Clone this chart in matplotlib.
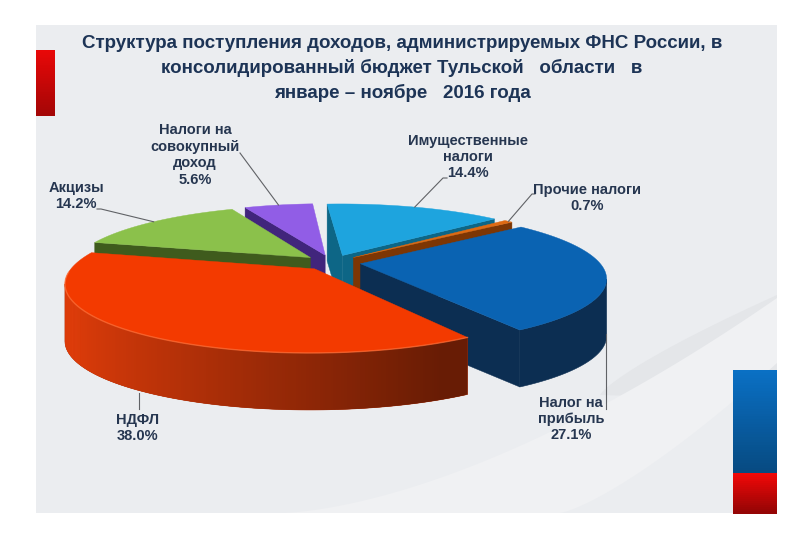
import numpy as np
import matplotlib
matplotlib.use('Agg')
import matplotlib.pyplot as plt
from matplotlib.patches import Polygon, Rectangle
from matplotlib.colors import to_rgb

# ---------------- data ----------------
categories = ['Имущественные\nналоги', 'Прочие налоги', 'Налог на\nприбыль',
              'НДФЛ', 'Акцизы', 'Налоги на\nсовокупный\nдоход']
shares = [14.4, 0.7, 27.1, 38.0, 14.2, 5.6]
pct_labels = ['14.4%', '0.7%', '27.1%', '38.0%', '14.2%', '5.6%']
title_lines = ['Структура поступления доходов, администрируемых ФНС России, в',
               'консолидированный бюджет Тульской   области   в',
               'январе – ноябре   2016 года']

# ---------------- style ----------------
top_colors = ['#1ea4de', '#df6a12', '#0a63b2', '#f33a00', '#8bc14b', '#915de6']
wall_colors = ['#0d6686', '#7d3604', '#0c2e52', '#a82a00', '#3f5b1d', '#41257c']
band_colors = ['#14789c', '#8c3c06', '#0c2e52', '#e63e0a', '#4a6a22', '#4a2a8a']
band_shade = [False, False, False, True, False, False]
text_color = '#263650'
title_color = '#1d3456'

# label layout (pixel positions of text blocks and leader elbows)
label_pos = [(468, 157), (587, 198), (571, 419), (138, 428), (76, 196), (195, 155)]
label_elbow = [[(447, 178), (443, 178)], [(535, 194), (532, 194)], None, None,
               [(97, 209), (101, 209)], [(240, 153)]]

# 3D projection parameters (pixels)
START = -4.0
EXPLODE = 0.12
CX, CY = 332.0, 262.5
SX, SY = 239.0, 64.4
PERSP = 0.2
DEPTH = 57.0


def proj(X, Z, down=0.0):
    s = 1.0 / (1.0 - PERSP * np.asarray(Z))
    return CX + SX * np.asarray(X) * s, CY + SY * np.asarray(Z) * s + DEPTH * down


def signed_area(xs, ys):
    return 0.5 * np.sum(xs * np.roll(ys, -1) - np.roll(xs, -1) * ys)


def shade(c, f):
    r, g, b = to_rgb(c)
    return (min(r * f, 1), min(g * f, 1), min(b * f, 1))


fig = plt.figure(figsize=(8, 5.33), dpi=100)
ax = fig.add_axes([0, 0, 1, 1])
ax.set_xlim(0, 800)
ax.set_ylim(533, 0)
ax.axis('off')
fig.patch.set_facecolor('white')

# ---------------- slide background ----------------
ax.add_patch(Rectangle((36, 25), 741, 488, facecolor='#ebedf0', edgecolor='none', zorder=0))
t = np.linspace(0, 1, 100)
# light sweeping band
up_x = 280 + 497 * t
up_y = 513 - 215 * t ** 1.6
lo_x = 560 + 217 * t
lo_y = 513 - 150 * t ** 1.3
ax.fill(np.r_[up_x, lo_x[::-1]], np.r_[up_y, lo_y[::-1]], color='#f0f1f3', zorder=0.05, lw=0)
# slightly darker soft area at the right
dk_x = 600 + 177 * t
dk_y = 395 - 100 * t ** 0.8
ax.fill(np.r_[dk_x, 777], np.r_[dk_y, 400], color='#e4e6e9', zorder=0.04, lw=0)

# red bar at left
for i in range(40):
    ax.add_patch(Rectangle((36, 50 + i * 65 / 40), 19, 65 / 40 + 0.5,
                           facecolor=shade('#e80808', 1 - 0.3 * i / 40), edgecolor='none', zorder=1))
# flag bar at right
for i in range(40):
    ax.add_patch(Rectangle((733, 370 + i * 103 / 40), 44, 103 / 40 + 0.5,
                           facecolor=shade('#0a70c4', 1 - 0.35 * i / 40), edgecolor='none', zorder=1))
for i in range(20):
    ax.add_patch(Rectangle((733, 473 + i * 40 / 20), 44, 40 / 20 + 0.5,
                           facecolor=shade('#f00808', 1 - 0.4 * i / 20), edgecolor='none', zorder=1))

# ---------------- title ----------------
for k, line in enumerate(title_lines):
    ax.text(402, 43 + 25 * k, line, ha='center', va='center', fontsize=13.5,
            fontweight='bold', color=title_color, family=['Liberation Sans', 'DejaVu Sans'], zorder=5)

# ---------------- 3D pie ----------------
total = float(sum(shares))
bounds = START + 360.0 * np.r_[0, np.cumsum(shares)] / total
slices = []
for i in range(len(shares)):
    a1, a2 = bounds[i], bounds[i + 1]
    m = np.radians(0.5 * (a1 + a2))
    ox, oz = EXPLODE * np.sin(m), -EXPLODE * np.cos(m)
    slices.append((oz, i, a1, a2, ox))

order = sorted(slices)
z = 2.0
anchors = {}
for oz, i, a1, a2, ox in order:
    th = np.radians(np.linspace(a1, a2, max(int((a2 - a1) * 2), 3)))
    RX = ox + np.sin(th)
    RZ = oz - np.cos(th)
    tx, ty = proj(RX, RZ, 0)
    bx, by = proj(RX, RZ, 1)
    ax0, ay0 = proj(ox, oz, 0)
    ax1, ay1 = proj(ox, oz, 1)
    # start wall
    wx = np.array([ax0, tx[0], bx[0], ax1]); wy = np.array([ay0, ty[0], by[0], ay1])
    if signed_area(wx, wy) < 0:
        ax.add_patch(Polygon(np.c_[wx, wy], closed=True, facecolor=wall_colors[i],
                             edgecolor=wall_colors[i], lw=0.3, zorder=z))
    # end wall
    wx = np.array([tx[-1], ax0, ax1, bx[-1]]); wy = np.array([ty[-1], ay0, ay1, by[-1]])
    if signed_area(wx, wy) < 0:
        ax.add_patch(Polygon(np.c_[wx, wy], closed=True, facecolor=wall_colors[i],
                             edgecolor=wall_colors[i], lw=0.3, zorder=z))
    # outer band: visible quads
    vis = []
    for k in range(len(th) - 1):
        qx = np.array([tx[k], tx[k + 1], bx[k + 1], bx[k]])
        qy = np.array([ty[k], ty[k + 1], by[k + 1], by[k]])
        vis.append(signed_area(qx, qy) < 0)
    vis = np.array(vis)
    if vis.any():
        idx = np.where(vis)[0]
        k0, k1 = idx.min(), idx.max() + 1
        base = band_colors[i]
        if band_shade[i]:
            base = shade(band_colors[i], 0.75)
        bpx = np.r_[tx[k0:k1 + 1], bx[k0:k1 + 1][::-1]]
        bpy = np.r_[ty[k0:k1 + 1], by[k0:k1 + 1][::-1]]
        ax.add_patch(Polygon(np.c_[bpx, bpy], closed=True, facecolor=base,
                             edgecolor=base, lw=0.4, zorder=z + 0.1))
        if band_shade[i]:
            for k in range(k0, k1):
                k2 = min(k + 2, k1)
                qx = np.r_[tx[k:k2 + 1], bx[k:k2 + 1][::-1]]
                qy = np.r_[ty[k:k2 + 1], by[k:k2 + 1][::-1]]
                f = np.clip(0.62 - 0.38 * np.sin(th[k]), 0.45, 1.0)
                c = shade(band_colors[i], f)
                ax.add_patch(Polygon(np.c_[qx, qy], closed=True, facecolor=c,
                                     edgecolor='none', lw=0, zorder=z + 0.12))
    # top face
    px = np.r_[ax0, tx]; py = np.r_[ay0, ty]
    ax.add_patch(Polygon(np.c_[px, py], closed=True, facecolor=top_colors[i],
                         edgecolor=top_colors[i], lw=0.3, zorder=z + 0.2))
    if band_shade[i]:
        front = np.cos(th) < -0.05
        ax.plot(tx[front], ty[front], color='#ff7a45', lw=1.0, alpha=0.6, zorder=z + 0.25)
    # anchor on rim at mid angle
    mm = np.radians(0.5 * (a1 + a2))
    mx, mz = ox + np.sin(mm), oz - np.cos(mm)
    anchors[i] = (proj(mx, mz, 0), proj(mx, mz, 1))
    z += 1

# ---------------- labels ----------------
for i in range(len(shares)):
    lx, ly = label_pos[i]
    ax.text(lx, ly, categories[i] + '\n' + pct_labels[i], ha='center', va='center',
            fontsize=10.5, fontweight='bold', color=text_color, linespacing=1.22,
            family=['Liberation Sans', 'DejaVu Sans'], zorder=20)
    (tx0, ty0), (bx0, by0) = anchors[i]
    if label_elbow[i] is not None:
        pts = label_elbow[i] + [(float(tx0), float(ty0))]
        ax.plot([p[0] for p in pts], [p[1] for p in pts], color='#606266', lw=0.8, zorder=19)
    else:
        ax.plot([float(bx0), float(bx0)], [float(by0) + 3, ly - 19 if i == 3 else ly - 10],
                color='#606266', lw=0.8, zorder=19)

fig.savefig('out.png', dpi=100, facecolor='white')
